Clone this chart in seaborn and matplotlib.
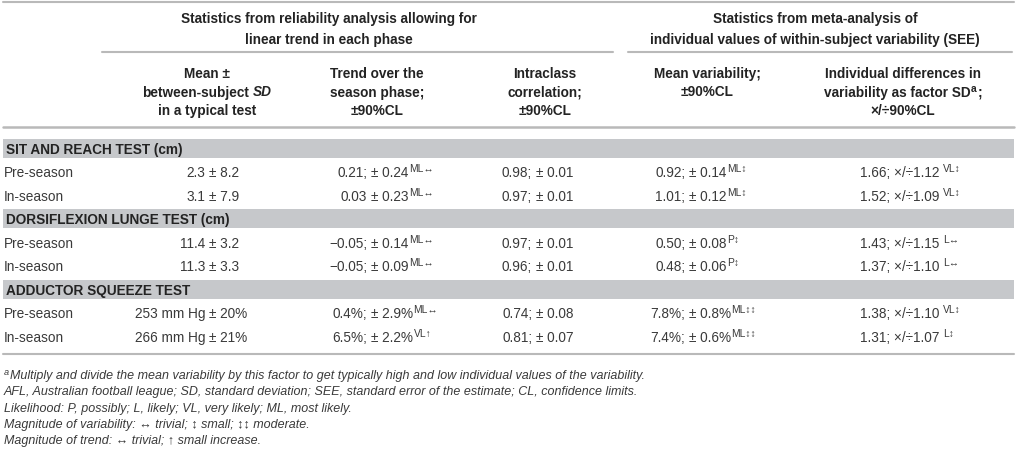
import seaborn as sns
import matplotlib.pyplot as plt
import matplotlib.patches as mpatches

OUTPUT_FILE_NAME = "out.png"

# table content
tests = ["SIT AND REACH TEST (cm)", "DORSIFLEXION LUNGE TEST (cm)", "ADDUCTOR SQUEEZE TEST"]
phases = ["Pre-season", "In-season"]
mean_sd = ["2.3 ± 8.2", "3.1 ± 7.9", "11.4 ± 3.2", "11.3 ± 3.3",
           "253 mm Hg ± 20%", "266 mm Hg ± 21%"]
trend = ["0.21; ± 0.24", "0.03 ± 0.23", "\u22120.05; ± 0.14", "\u22120.05; ± 0.09",
         "0.4%; ± 2.9%", "6.5%; ± 2.2%"]
trend_sup = ["ML\u2194", "ML\u2194", "ML\u2194", "ML\u2194", "ML\u2194", "VL\u2191"]
icc = ["0.98; ± 0.01", "0.97; ± 0.01", "0.97; ± 0.01", "0.96; ± 0.01",
       "0.74; ± 0.08", "0.81; ± 0.07"]
mean_var = ["0.92; ± 0.14", "1.01; ± 0.12", "0.50; ± 0.08", "0.48; ± 0.06",
            "7.8%; ± 0.8%", "7.4%; ± 0.6%"]
mean_var_sup = ["ML\u2195", "ML\u2195", "P\u2195", "P\u2195", "ML\u2195\u2195", "ML\u2195\u2195"]
indiv = ["1.66; ×/÷1.12", "1.52; ×/÷1.09", "1.43; ×/÷1.15", "1.37; ×/÷1.10",
         "1.38; ×/÷1.10", "1.31; ×/÷1.07"]
indiv_sup = ["VL\u2195", "VL\u2195", "L\u2194", "L\u2194", "VL\u2195", "L\u2195"]

group_headers = [["Statistics from reliability analysis allowing for", "linear trend in each phase"],
                 ["Statistics from meta-analysis of",
                  "individual values of within-subject variability (SEE)"]]
footnotes = ["AFL, Australian football league; SD, standard deviation; SEE, standard error of the estimate; CL, confidence limits.",
             "Likelihood: P, possibly; L, likely; VL, very likely; ML, most likely.",
             "Magnitude of variability: \u2194 trivial; \u2195 small; \u2195\u2195 moderate.",
             "Magnitude of trend: \u2194 trivial; \u2191 small increase."]
footnote_a = "Multiply and divide the mean variability by this factor to get typically high and low individual values of the variability."

# styling
HEAD = "#232323"
BODY = "#3a3a3a"
RULE = "#b9b9b9"
BAND = "#c6c8cb"
FS = 9.8
SUP = 7.4

sns.set_theme(style="white")
plt.rcParams["font.family"] = ["Liberation Sans", "DejaVu Sans"]

fig = plt.figure(figsize=(10.17, 4.52), dpi=100)
ax = fig.add_axes([0, 0, 1, 1])
ax.set_xlim(0, 1017)
ax.set_ylim(452, 0)
ax.axis("off")
renderer = fig.canvas.get_renderer()


def width_of(s, **kw):
    t = ax.text(0, 0, s, **kw)
    w = t.get_window_extent(renderer).width
    t.remove()
    return w


def runs(x, y, parts, ha="left"):
    # parts: (text, kwargs, rise, gap)
    widths = [width_of(p[0], **p[1]) + p[3] for p in parts]
    total = sum(widths)
    if ha == "center":
        x = x - total / 2
    elif ha == "right":
        x = x - total
    for (s, kw, rise, gap), w in zip(parts, widths):
        ax.text(x + gap, y - rise, s, va="baseline", ha="left", **kw)
        x += w


bold = dict(fontsize=FS, fontweight="bold", color=HEAD)
bold_it = dict(fontsize=FS, fontweight="bold", fontstyle="italic", color=HEAD)
bold_sup = dict(fontsize=SUP, fontweight="bold", color=HEAD)
reg = dict(fontsize=FS, color=BODY)
reg_sup = dict(fontsize=SUP, color=BODY)
ital = dict(fontsize=9.0, fontstyle="italic", color=BODY)
ital_sup = dict(fontsize=6.6, fontstyle="italic", color=BODY)
space = width_of("a a", **reg) - width_of("aa", **reg)


def pm_cell(x_pm, y, s, sup=None):
    # align a cell on its "±" sign
    left, right = s.split("±")
    ax.text(x_pm - space, y, left.strip(), ha="right", va="baseline", **reg)
    parts = [("±" + right, reg, 0, 0)]
    if sup:
        parts.append((sup, reg_sup, 5, 0.5))
    runs(x_pm, y, parts)


# rules
ax.plot([3, 1014], [3, 3], color=RULE, lw=1.5)
ax.plot([102, 613], [53, 53], color=RULE, lw=1.5)
ax.plot([628, 1012], [53, 53], color=RULE, lw=1.5)
ax.plot([3, 1014], [128, 128], color=RULE, lw=1.8)

# group headers
for cx, lines in zip([329, 815], group_headers):
    for i, line in enumerate(lines):
        ax.text(cx, 23 + i * 21, line, ha="center", va="baseline", **bold)

# column headers
hy = [78, 96.5, 115]
runs(207, hy[0], [("Mean ±", bold, 0, 0)], ha="center")
runs(207, hy[1], [("between-subject", bold, 0, 0), ("SD", bold_it, 0, 3.5)], ha="center")
runs(207, hy[2], [("in a typical test", bold, 0, 0)], ha="center")
for i, line in enumerate(["Trend over the", "season phase;", "±90%CL"]):
    ax.text(377, hy[i], line, ha="center", va="baseline", **bold)
for i, line in enumerate(["Intraclass", "correlation;", "±90%CL"]):
    ax.text(545, hy[i], line, ha="center", va="baseline", **bold)
for i, line in enumerate(["Mean variability;", "±90%CL"]):
    ax.text(707, hy[i], line, ha="center", va="baseline", **bold)
ax.text(903, hy[0], "Individual differences in", ha="center", va="baseline", **bold)
runs(903, hy[1], [("variability as factor SD", bold, 0, 0), ("a", bold_sup, 4, 0.5),
                  (";", bold, 0, 0.5)], ha="center")
ax.text(903, hy[2], "×/÷90%CL", ha="center", va="baseline", **bold)

# body
pitch = 23.5
for k, test in enumerate(tests):
    yc = 149 + k * 3 * pitch
    ax.add_patch(mpatches.Rectangle((3, yc - 9.5), 1011, 19, color=BAND, lw=0))
    ax.text(6, yc + 5, test, ha="left", va="baseline", **bold)
    for j, phase in enumerate(phases):
        i = k * 2 + j
        yb = yc + (j + 1) * pitch + 5
        ax.text(4, yb, phase, ha="left", va="baseline", **reg)
        pm_cell(209, yb, mean_sd[i])
        pm_cell(371, yb, trend[i], trend_sup[i])
        pm_cell(536, yb, icc[i])
        pm_cell(689, yb, mean_var[i], mean_var_sup[i])
        runs(860, yb, [(indiv[i], reg, 0, 0), (indiv_sup[i], reg_sup, 5, 4)])

ax.plot([3, 1014], [355, 355], color=RULE, lw=1.5)

# footnotes
runs(4, 379, [("a", ital_sup, 4, 0), (footnote_a, ital, 0, 1)])
for i, note in enumerate(footnotes):
    ax.text(4, 395.5 + i * 16.3, note, ha="left", va="baseline", **ital)

plt.savefig(OUTPUT_FILE_NAME, dpi=100)
